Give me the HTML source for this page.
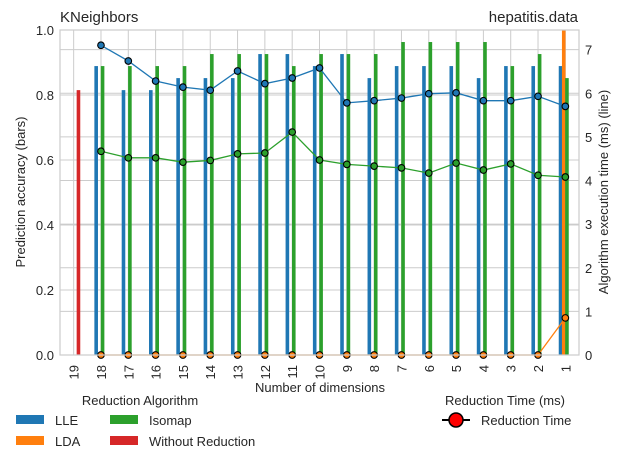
<!DOCTYPE html>
<html><head><meta charset="utf-8"><style>
body{margin:0;background:#fff;}
svg text{font-family:"Liberation Sans",sans-serif;fill:#262626;}
</style></head><body>
<svg id="chart" width="620" height="465" xmlns="http://www.w3.org/2000/svg">
<rect width="620" height="465" fill="#fff"/>
<g id="grid"></g><g id="bars"></g><g id="lines"></g><g id="axes"></g>
<text x="60" y="22" font-size="15">KNeighbors</text>
<text x="578" y="22" font-size="15" text-anchor="end">hepatitis.data</text>
<text x="320" y="392" font-size="13" text-anchor="middle">Number of dimensions</text>
<text transform="translate(25,192) rotate(-90)" font-size="13" text-anchor="middle">Prediction accuracy (bars)</text>
<text transform="translate(608,192) rotate(-90)" font-size="13" text-anchor="middle">Algorithm execution time (ms) (line)</text>
<g>
<text x="140" y="405" font-size="13" text-anchor="middle">Reduction Algorithm</text>
<rect x="16" y="415" width="28" height="9" fill="#1f77b4"/><text x="55" y="425" font-size="13">LLE</text>
<rect x="16" y="436" width="28" height="9" fill="#ff7f0e"/><text x="55" y="446" font-size="13">LDA</text>
<rect x="110" y="415" width="28" height="9" fill="#2ca02c"/><text x="149" y="425" font-size="13">Isomap</text>
<rect x="110" y="436" width="28" height="9" fill="#d62728"/><text x="149" y="446" font-size="13">Without Reduction</text>
</g>
<g>
<text x="505" y="405" font-size="13" text-anchor="middle">Reduction Time (ms)</text>
<line x1="442" y1="420" x2="470" y2="420" stroke="#000" stroke-width="2"/>
<circle cx="456" cy="420" r="7" fill="#f00" stroke="#000" stroke-width="1.5"/>
<text x="481" y="425" font-size="13">Reduction Time</text>
</g>
</svg>
<script>
const categories=[19,18,17,16,15,14,13,12,11,10,9,8,7,6,5,4,3,2,1];
const lleAcc=[0,0.889,0.815,0.815,0.852,0.852,0.852,0.926,0.926,0.889,0.926,0.852,0.889,0.889,0.889,0.852,0.889,0.889,0.889];
const ldaAcc=[0,0,0,0,0,0,0,0,0,0,0,0,0,0,0,0,0,0,1.0];
const isoAcc=[0,0.889,0.889,0.889,0.889,0.926,0.926,0.926,0.889,0.926,0.926,0.926,0.963,0.963,0.963,0.963,0.889,0.926,0.852];
const noneAcc=[0.815,0,0,0,0,0,0,0,0,0,0,0,0,0,0,0,0,0,0];
const lleTime=[null,7.10,6.74,6.28,6.14,6.07,6.51,6.22,6.35,6.58,5.78,5.83,5.89,5.99,6.01,5.83,5.83,5.93,5.70];
const ldaTime=[null,0,0,0,0,0,0,0,0,0,0,0,0,0,0,0,0,0,0.85];
const isoTime=[null,4.67,4.52,4.52,4.42,4.46,4.61,4.63,5.11,4.47,4.37,4.33,4.29,4.17,4.40,4.24,4.38,4.12,4.08];
const yTicks=[0,0.2,0.4,0.6,0.8,1.0];
const y2Ticks=[0,1,2,3,4,5,6,7];
const L=60,R=579,T=30,B=355,Y2MAX=7.45;
const NS="http://www.w3.org/2000/svg";
const step=(R-L)/categories.length;
const xs=i=>L+step*(i+0.5);
const ys=v=>B-(B-T)*v;
const y2=v=>B-(B-T)*v/Y2MAX;
function mk(tag,attrs,parent){const e=document.createElementNS(NS,tag);for(const k in attrs)e.setAttribute(k,attrs[k]);document.getElementById(parent).appendChild(e);return e;}
yTicks.forEach(t=>{const g=mk('line',{x1:L,x2:R,y1:ys(t),y2:ys(t),stroke:'#ccc','stroke-width':1},'grid');


const tx=mk('text',{x:L-6,y:ys(t)+5,'font-size':13,'text-anchor':'end'},'axes');tx.textContent=t.toFixed(1);

});
y2Ticks.forEach(t=>{const g=mk('line',{x1:L,x2:R,y1:y2(t),y2:y2(t),stroke:'#ccc','stroke-width':1},'grid');


const tx=mk('text',{x:R+6,y:y2(t)+5,'font-size':13},'axes');tx.textContent=t;

});
categories.forEach((c,i)=>{const g=mk('line',{x1:xs(i),x2:xs(i),y1:T,y2:B,stroke:'#ccc','stroke-width':1},'grid');


const tx=mk('text',{transform:`translate(${xs(i)+5},${B+10}) rotate(-90)`,'font-size':13,'text-anchor':'end'},'axes');tx.textContent=c;

});
const fr=mk('rect',{x:L,y:T,width:R-L,height:B-T,fill:'none',stroke:'#ccc','stroke-width':1.2},'axes');


const series=[[lleAcc,'#1f77b4',-1.5,'bar-lle'],[ldaAcc,'#ff7f0e',-0.5,'bar-lda'],[isoAcc,'#2ca02c',0.5,'bar-isomap'],[noneAcc,'#d62728',1.5,'bar-without-reduction']];
const bw=3.2;
series.forEach(([vals,col,off,name])=>vals.forEach((v,i)=>{if(!v)return;
const b=mk('rect',{x:xs(i)+off*bw-1.8,y:ys(v),width:3.6,height:B-ys(v),fill:col},'bars');

}));
[[lleTime,'#1f77b4','line-lle'],[isoTime,'#2ca02c','line-isomap'],[ldaTime,'#ff7f0e','line-lda']].forEach(([vals,col,name])=>{
const pts=[];vals.forEach((v,i)=>{if(v!==null)pts.push(xs(i)+','+y2(v));});
const p=mk('polyline',{points:pts.join(' '),fill:'none',stroke:col,'stroke-width':1.3},'lines');


vals.forEach((v,i)=>{if(v===null)return;
const c=mk('circle',{cx:xs(i),cy:y2(v),r:3.3,fill:col,stroke:'#000','stroke-width':1.1},'lines');

});});
</script>
</body></html>
